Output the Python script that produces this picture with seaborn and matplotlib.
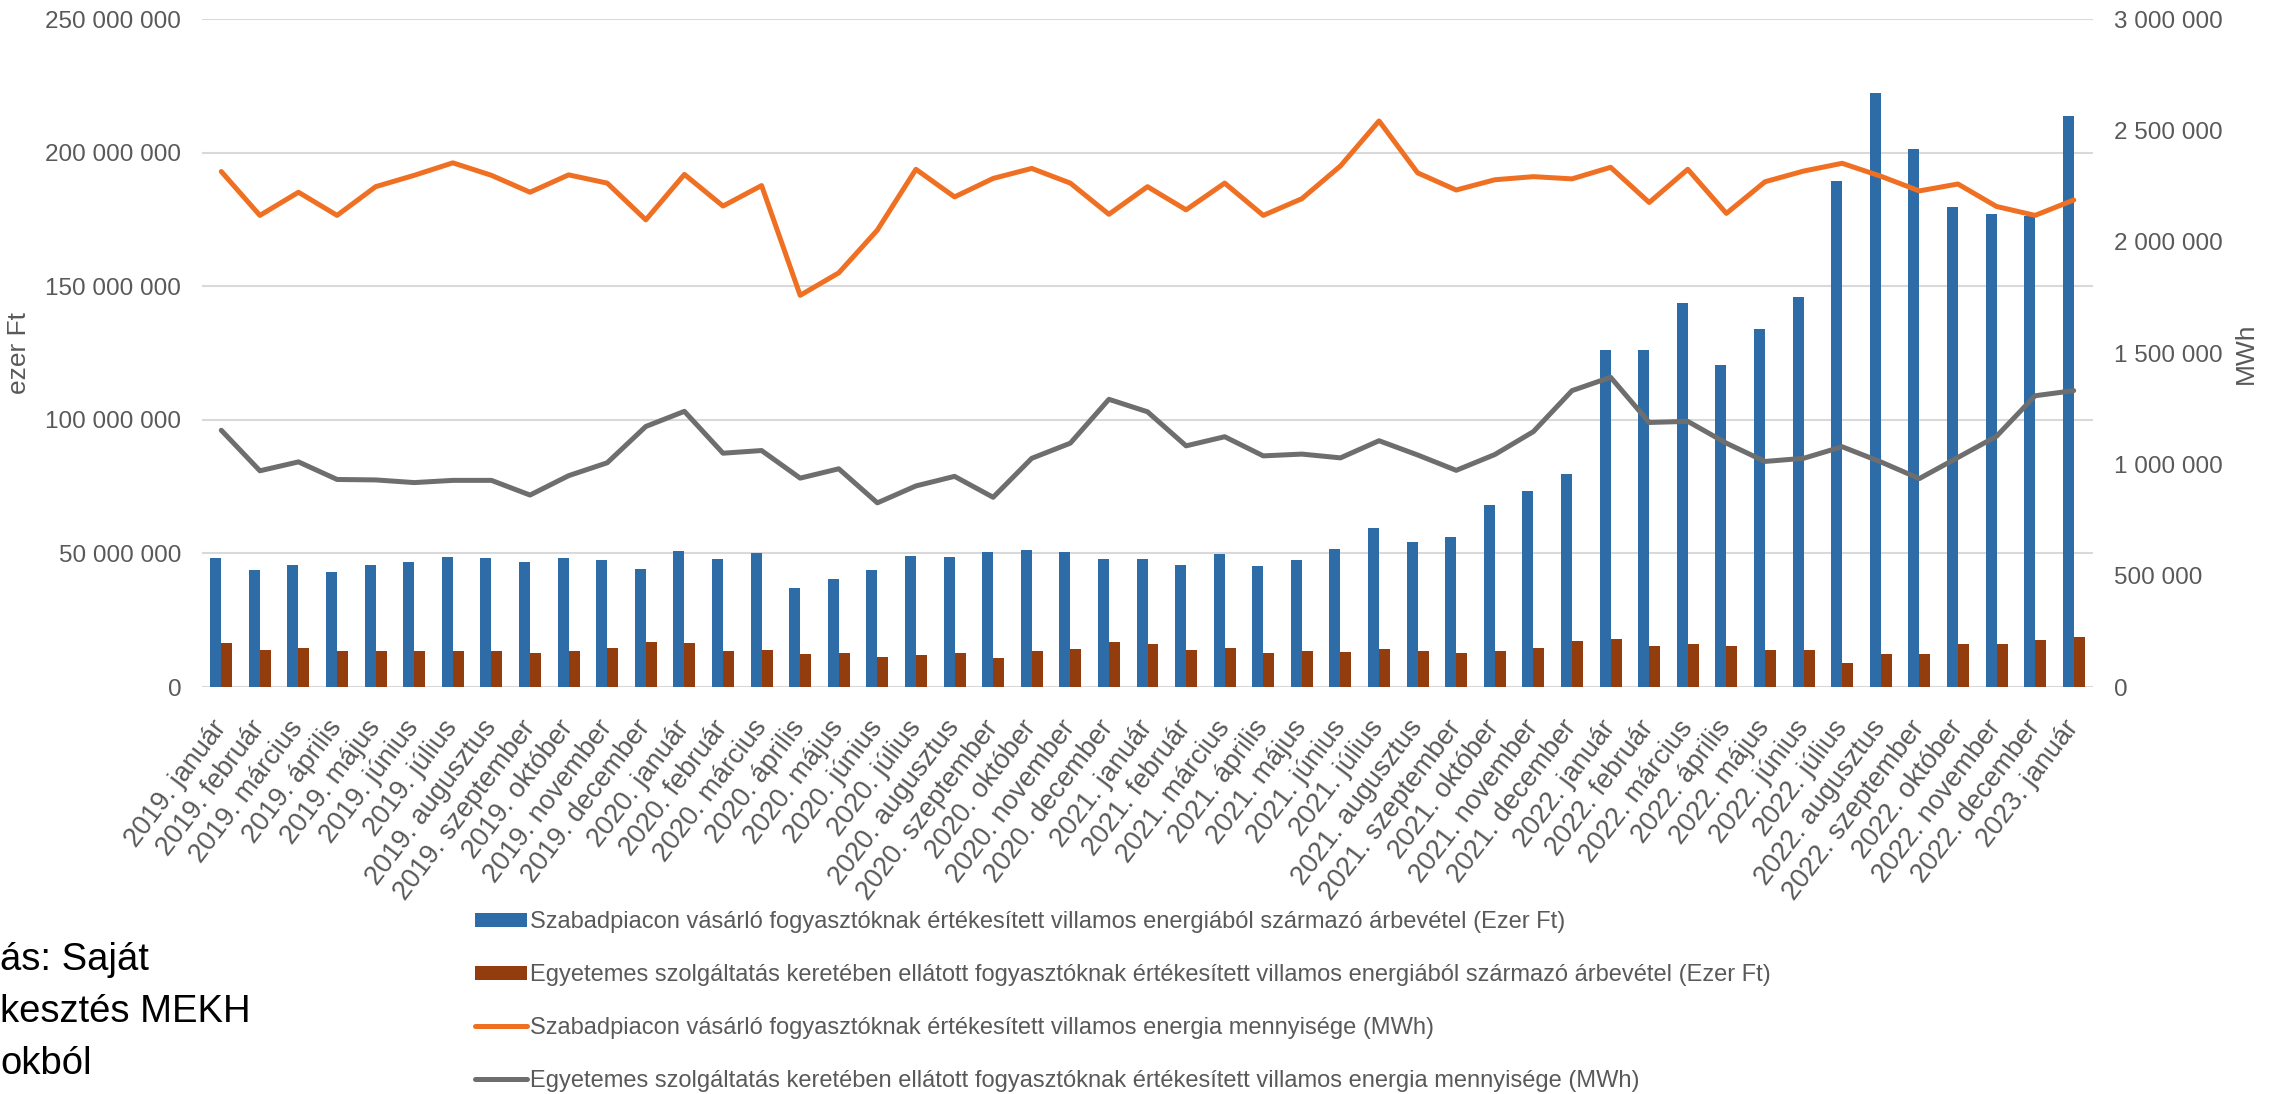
import numpy as np
import pandas as pd
import matplotlib
matplotlib.use("Agg")
import matplotlib.pyplot as plt
import seaborn as sns
from matplotlib.ticker import FuncFormatter, MultipleLocator
from matplotlib.patches import Patch, Circle, Arc
from matplotlib.lines import Line2D

months = [
    "2019. január", "2019. február", "2019. március", "2019. április", "2019. május", "2019. június",
    "2019. július", "2019. augusztus", "2019. szeptember", "2019. október", "2019. november", "2019. december",
    "2020. január", "2020. február", "2020. március", "2020. április", "2020. május", "2020. június",
    "2020. július", "2020. augusztus", "2020. szeptember", "2020. október", "2020. november", "2020. december",
    "2021. január", "2021. február", "2021. március", "2021. április", "2021. május", "2021. június",
    "2021. július", "2021. augusztus", "2021. szeptember", "2021. október", "2021. november", "2021. december",
    "2022. január", "2022. február", "2022. március", "2022. április", "2022. május", "2022. június",
    "2022. július", "2022. augusztus", "2022. szeptember", "2022. október", "2022. november", "2022. december",
    "2023. január",
]

# Revenue, thousand Ft (left axis)
free_market_revenue = [
    48.2e6, 43.9e6, 45.8e6, 43.2e6, 45.8e6, 46.7e6, 48.7e6, 48.1e6, 46.7e6, 48.4e6, 47.7e6, 44.3e6,
    51.0e6, 47.9e6, 50.0e6, 37.0e6, 40.6e6, 43.7e6, 48.9e6, 48.7e6, 50.5e6, 51.2e6, 50.5e6, 47.9e6,
    47.9e6, 45.8e6, 49.6e6, 45.3e6, 47.7e6, 51.8e6, 59.6e6, 54.3e6, 56.3e6, 68.0e6, 73.5e6, 79.7e6,
    126.1e6, 126.1e6, 143.8e6, 120.6e6, 134.0e6, 145.9e6, 189.5e6, 222.4e6, 201.5e6, 179.8e6, 177.1e6, 176.2e6,
    213.7e6,
]
universal_revenue = [
    16.4e6, 14.0e6, 14.5e6, 13.3e6, 13.4e6, 13.3e6, 13.6e6, 13.6e6, 12.6e6, 13.6e6, 14.5e6, 16.7e6,
    16.4e6, 13.6e6, 14.0e6, 12.4e6, 12.9e6, 11.2e6, 12.1e6, 12.6e6, 11.0e6, 13.3e6, 14.3e6, 16.7e6,
    16.0e6, 14.0e6, 14.5e6, 12.9e6, 13.3e6, 13.1e6, 14.3e6, 13.4e6, 12.6e6, 13.3e6, 14.5e6, 17.1e6,
    18.1e6, 15.5e6, 16.2e6, 15.3e6, 14.0e6, 14.0e6, 9.1e6, 12.2e6, 12.2e6, 16.0e6, 16.0e6, 17.7e6,
    18.8e6,
]
# Energy, MWh (right axis)
free_market_energy = [
    2315000, 2118000, 2222000, 2118000, 2247000, 2298000, 2354000, 2298000, 2222000, 2300000, 2263000, 2098000,
    2302000, 2160000, 2252000, 1759000, 1860000, 2052000, 2325000, 2201000, 2284000, 2329000, 2263000, 2123000,
    2247000, 2143000, 2263000, 2118000, 2193000, 2340000, 2542000, 2309000, 2232000, 2278000, 2292000, 2282000,
    2334000, 2176000, 2325000, 2127000, 2269000, 2317000, 2352000, 2294000, 2228000, 2259000, 2158000, 2118000,
    2187000,
]
universal_energy = [
    1153000, 971000, 1011000, 932000, 930000, 918000, 928000, 928000, 862000, 949000, 1007000, 1170000,
    1238000, 1050000, 1062000, 938000, 980000, 827000, 903000, 946000, 852000, 1027000, 1095000, 1292000,
    1236000, 1083000, 1124000, 1038000, 1046000, 1029000, 1106000, 1042000, 973000, 1044000, 1147000, 1331000,
    1391000, 1188000, 1193000, 1095000, 1013000, 1027000, 1079000, 1011000, 936000, 1031000, 1126000, 1308000,
    1331000,
]

labels = [
    "Szabadpiacon vásárló fogyasztóknak értékesített villamos energiából származó árbevétel (Ezer Ft)",
    "Egyetemes szolgáltatás keretében ellátott fogyasztóknak értékesített villamos energiából származó árbevétel (Ezer Ft)",
    "Szabadpiacon vásárló fogyasztóknak értékesített villamos energia mennyisége (MWh)",
    "Egyetemes szolgáltatás keretében ellátott fogyasztóknak értékesített villamos energia mennyisége (MWh)",
]
source_lines = ["ás: Saját", "kesztés MEKH", "okból"]

c_blue, c_brown, c_orange, c_gray = "#2e6ca8", "#933d0f", "#f07023", "#6e6e6e"
txt_gray = "#595959"

sns.set_theme(style="white")
plt.rcParams["font.family"] = ["Liberation Sans", "DejaVu Sans"]

bars = pd.DataFrame({
    "month": months * 2,
    "series": [labels[0]] * len(months) + [labels[1]] * len(months),
    "value": free_market_revenue + universal_revenue,
})
lines = pd.DataFrame({
    "pos": list(range(len(months))) * 2,
    "series": [labels[2]] * len(months) + [labels[3]] * len(months),
    "value": free_market_energy + universal_energy,
})

W, H = 2274, 1094
fig = plt.figure(figsize=(W / 100, H / 100), dpi=100)
fig.patch.set_facecolor("white")

# faint background watermark bands
bg = "#eef5f2"
for (cx, cy, d, lw, t1, t2) in [(-350, 1150, 1700, 60, 0, 90), (150, 1250, 1500, 75, 0, 90),
                                (1500, 1400, 2200, 70, 100, 170)]:
    arc = Arc((cx / W, cy / H), d / W, d / H, theta1=t1, theta2=t2,
              transform=fig.transFigure, color=bg, lw=lw, zorder=0)
    fig.add_artist(arc)

ax = fig.add_axes([202 / W, 1 - 687 / H, (2093 - 202) / W, (687 - 19) / H])
ax.set_facecolor("none")

sns.barplot(data=bars, x="month", y="value", hue="series", order=months,
            palette=[c_blue, c_brown], width=0.57, gap=0, ax=ax, legend=False,
            saturation=1, edgecolor="none")

ax.set_ylim(0, 250e6)
ax.set_xlim(-0.5, len(months) - 0.5)
ax.yaxis.set_major_locator(MultipleLocator(50e6))
fmt = FuncFormatter(lambda v, p: f"{int(round(v)):,}".replace(",", " "))
ax.yaxis.set_major_formatter(fmt)
ax.grid(axis="y", color="#d9d9d9", lw=1.5, zorder=0)
ax.set_axisbelow(True)
for s in ax.spines.values():
    s.set_visible(False)
ax.tick_params(axis="both", length=0, colors=txt_gray, labelsize=17.5)
ax.tick_params(axis="y", pad=15)
ax.tick_params(axis="x", pad=26)
ax.set_xticks(range(len(months)))
ax.set_xticklabels(months, rotation=53, ha="right", va="center", rotation_mode="anchor", fontsize=19.5)
ax.set_xlabel("")
ax.set_ylabel("ezer Ft", color=txt_gray, fontsize=19, va="center")
ax.yaxis.set_label_coords(-(202 - 19) / (2093 - 202), 0.5)

ax2 = ax.twinx()
sns.lineplot(data=lines, x="pos", y="value", hue="series", palette=[c_orange, c_gray],
             lw=3.6, ax=ax2, legend=False, solid_joinstyle="round", solid_capstyle="round")
ax2.set_ylim(0, 3e6)
ax2.set_xlim(-0.5, len(months) - 0.5)
ax2.yaxis.set_major_locator(MultipleLocator(500e3))
ax2.yaxis.set_major_formatter(fmt)
for s in ax2.spines.values():
    s.set_visible(False)
ax2.tick_params(axis="y", length=0, colors=txt_gray, labelsize=17.5, pad=15)
ax2.set_ylabel("MWh", color=txt_gray, fontsize=19, va="center")
ax2.yaxis.set_label_coords(1 + (2246 - 2093) / (2093 - 202), 0.5)
ax2.set_xlabel("")

handles = [
    Patch(facecolor=c_blue, edgecolor="none"),
    Patch(facecolor=c_brown, edgecolor="none"),
    Line2D([0], [0], color=c_orange, lw=3.6, solid_capstyle="round"),
    Line2D([0], [0], color=c_gray, lw=3.6, solid_capstyle="round"),
]
fig.legend(handles, labels, loc="upper left", bbox_to_anchor=(466 / W, 1 - 902 / H),
           frameon=False, fontsize=17, labelcolor=txt_gray, handlelength=2.2,
           handleheight=0.55, handletextpad=0.1, labelspacing=1.30, borderaxespad=0)

for txt, y in zip(source_lines, [960, 1012, 1064]):
    fig.text(0 / W, 1 - y / H, txt, fontsize=27.5, color="black", ha="left", va="center")

fig.add_artist(Circle((2268 / W, 1 - 1101 / H), 9 / W, transform=fig.transFigure,
                      color=c_orange, zorder=5, clip_on=False))

fig.savefig("out.png", dpi=100)
